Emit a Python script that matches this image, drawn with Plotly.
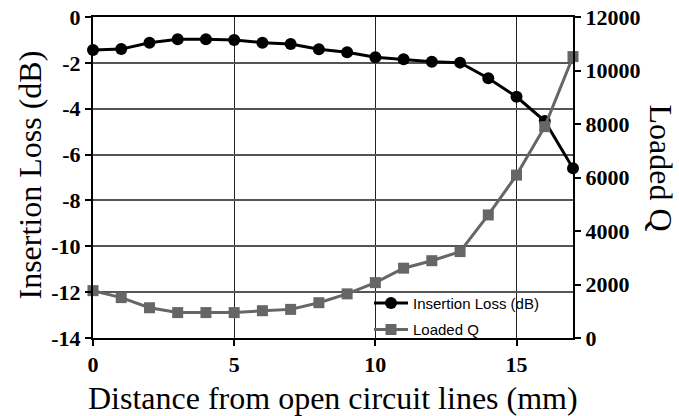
import plotly.graph_objects as go

# Distance from the open circuit lines (mm)
distance_mm = list(range(0, 18))

# Insertion loss (dB), left axis
insertion_loss_db = [-1.44, -1.40, -1.12, -0.97, -0.97, -1.00, -1.12, -1.18, -1.41,
                     -1.54, -1.76, -1.84, -1.95, -1.99, -2.67, -3.48, -4.54, -6.60]

# Loaded Q, right axis
loaded_q = [1770, 1510, 1130, 950, 950, 950, 1020, 1070, 1320,
            1650, 2070, 2610, 2890, 3230, 4600, 6090, 7900, 10520]

il_ticks = [0, -2, -4, -6, -8, -10, -12, -14]
q_ticks = [0, 2000, 4000, 6000, 8000, 10000, 12000]
x_ticks = [0, 5, 10, 15]

SERIF = "Liberation Serif"
SANS = "Liberation Sans"
GREY = "#666666"


def bold_labels(values):
    return ["<b>%d</b>" % v for v in values]


fig = go.Figure()

fig.add_trace(go.Scatter(
    x=distance_mm, y=insertion_loss_db, name="Insertion Loss (dB)",
    mode="lines+markers", legendgroup="il",
    line=dict(color="black", width=3),
    marker=dict(symbol="circle", size=12, color="black"),
    cliponaxis=False, yaxis="y",
))

fig.add_trace(go.Scatter(
    x=distance_mm, y=loaded_q, name="Loaded Q",
    mode="lines+markers", legendgroup="q",
    line=dict(color=GREY, width=3),
    marker=dict(symbol="square", size=11, color=GREY),
    cliponaxis=False, yaxis="y2",
))

tick_font = dict(family=SERIF, size=22, color="black")

fig.update_layout(
    template="none",
    width=679, height=416,
    margin=dict(l=93, r=106, t=17, b=78),
    paper_bgcolor="white", plot_bgcolor="white",
    font=dict(family=SERIF, size=22, color="black"),
    showlegend=True,
    legend=dict(
        x=0.575, y=-0.024, xanchor="left", yanchor="bottom",
        bgcolor="rgba(0,0,0,0)", borderwidth=0,
        font=dict(family=SANS, size=15, color="black"),
        tracegroupgap=4, itemwidth=34,
    ),
    xaxis=dict(
        range=[0, 17], tickmode="array", tickvals=x_ticks, ticktext=bold_labels(x_ticks),
        showgrid=True, gridcolor="#222222", gridwidth=1,
        showline=True, linecolor="black", linewidth=2, mirror=True,
        ticks="outside", ticklen=6, tickwidth=2, tickcolor="black",
        tickfont=tick_font, zeroline=False, automargin=False,
    ),
    yaxis=dict(
        range=[-14, 0], tickmode="array", tickvals=il_ticks, ticktext=bold_labels(il_ticks),
        showgrid=True, gridcolor="#555555", gridwidth=1.5,
        showline=True, linecolor="black", linewidth=2,
        ticks="outside", ticklen=6, tickwidth=2, tickcolor="black",
        tickfont=tick_font, zeroline=False, automargin=False,
    ),
    yaxis2=dict(
        range=[0, 12000], tickmode="array", tickvals=q_ticks, ticktext=bold_labels(q_ticks),
        overlaying="y", side="right", showgrid=False,
        showline=True, linecolor="black", linewidth=2,
        ticks="outside", ticklen=6, tickwidth=2, tickcolor="black",
        tickfont=tick_font, zeroline=False, automargin=False,
    ),
)

title_font = dict(family=SERIF, size=32, color="black")

fig.add_annotation(
    text="Insertion Loss (dB)", xref="paper", yref="paper",
    x=0, y=0.5, xanchor="center", yanchor="middle",
    xshift=-64, yshift=2, textangle=-90, showarrow=False, font=title_font,
)
fig.add_annotation(
    text="Loaded Q", xref="paper", yref="paper",
    x=1, y=0.5, xanchor="center", yanchor="middle",
    xshift=88, yshift=10, textangle=90, showarrow=False, font=title_font,
)
fig.add_annotation(
    text="Distance from open circuit lines (mm)", xref="paper", yref="paper",
    x=0.5, y=0, xanchor="center", yanchor="middle",
    yshift=-60, showarrow=False, font=title_font,
)

fig.write_html("out.html")
